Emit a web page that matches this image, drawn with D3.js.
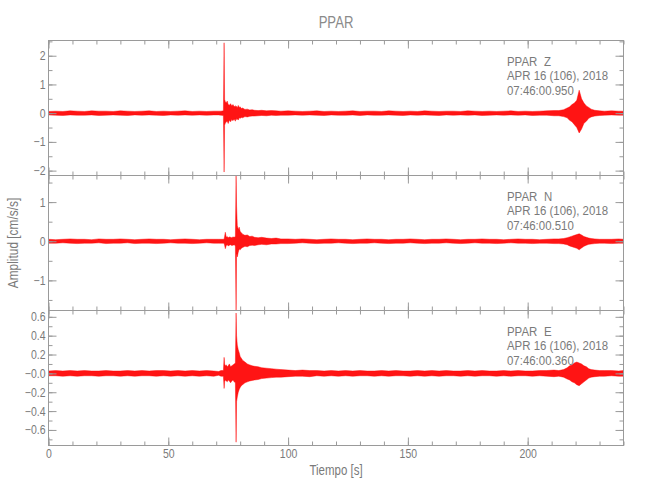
<!DOCTYPE html>
<html>
<head>
<meta charset="utf-8">
<script src="https://cdn.jsdelivr.net/npm/d3@7"></script>
<style>
  html, body { margin: 0; padding: 0; background: #ffffff; }
  svg { display: block; }
</style>
</head>
<body>
<script>
// ---------------- DATA ----------------
const station = "PPAR";
const components = ["Z", "N", "E"];
const dateLabel = "APR 16 (106), 2018";
const startTimes = ["07:46:00.950", "07:46:00.510", "07:46:00.360"];

// time samples (s) of the amplitude envelopes
const timeSec = [
  0, 3, 6, 9, 12, 15, 18, 21, 24, 27, 30, 33, 36, 39, 42, 45, 48, 51, 54, 57, 60, 63, 66, 69, 71,
  72, 73, 73.3, 73.5, 73.8, 74.2, 74.6, 75, 75.5, 76, 76.5, 77, 77.5, 78, 78.3, 78.5, 78.8, 79.2, 79.6, 80, 80.5, 81, 82, 83, 84, 85, 86, 87.5, 89, 91, 93, 95, 97, 100,
  103, 106, 109, 112, 115, 118, 121, 124, 127, 130, 133, 136, 139, 142, 145, 148, 151, 154, 157, 160, 163, 166, 169, 172, 175, 178, 181, 184, 187, 190, 193, 196, 199, 202, 205, 208, 211,
  213, 215, 216.5, 217.5, 218.5, 219.5, 220.5, 221.5, 222.5, 223.5, 224.5, 225.5, 226.5, 228, 230,
  232, 235, 238, 240
];

// Z component envelope (cm/s/s)
const zHigh = [
  0.06,0.07,0.06,0.08,0.07,0.06,0.08,0.07,0.07,0.06,0.08,0.07,0.06,0.07,0.08,0.06,0.07,0.06,0.07,0.08,0.06,0.07,0.06,0.07,0.07,
  0.07,0.08,2.45,0.48,0.40,0.35,0.42,0.30,0.28,0.33,0.25,0.30,0.22,0.26,0.20,0.24,0.18,0.27,0.20,0.22,0.16,0.18,0.13,0.14,0.11,0.12,0.10,0.09,0.10,0.08,0.09,0.08,0.07,0.08,
  0.07,0.06,0.07,0.08,0.06,0.07,0.06,0.07,0.08,0.06,0.07,0.07,0.06,0.08,0.07,0.06,0.07,0.06,0.08,0.07,0.06,0.07,0.07,0.06,0.08,0.07,0.06,0.07,0.06,0.07,0.08,0.06,0.07,0.06,0.07,0.08,0.09,
  0.09,0.12,0.18,0.22,0.30,0.35,0.45,0.80,0.50,0.35,0.25,0.20,0.14,0.10,0.08,
  0.07,0.08,0.07,0.07
];
const zLow = [
  -0.06,-0.07,-0.08,-0.06,-0.07,-0.07,-0.06,-0.08,-0.07,-0.06,-0.07,-0.08,-0.06,-0.07,-0.06,-0.07,-0.08,-0.06,-0.07,-0.06,-0.07,-0.06,-0.07,-0.06,-0.06,
  -0.07,-0.08,-2.05,-0.42,-0.35,-0.30,-0.28,-0.36,-0.25,-0.30,-0.22,-0.26,-0.20,-0.28,-0.18,-0.22,-0.20,-0.24,-0.16,-0.18,-0.15,-0.16,-0.12,-0.13,-0.11,-0.10,-0.10,-0.09,-0.08,-0.09,-0.07,-0.08,-0.07,-0.07,
  -0.06,-0.07,-0.06,-0.07,-0.08,-0.06,-0.07,-0.07,-0.06,-0.08,-0.06,-0.07,-0.07,-0.06,-0.07,-0.08,-0.06,-0.07,-0.06,-0.07,-0.08,-0.06,-0.07,-0.06,-0.07,-0.06,-0.08,-0.07,-0.06,-0.07,-0.06,-0.07,-0.06,-0.08,-0.07,-0.07,-0.09,
  -0.09,-0.12,-0.16,-0.25,-0.30,-0.40,-0.50,-0.69,-0.55,-0.35,-0.28,-0.18,-0.13,-0.10,-0.08,
  -0.07,-0.06,-0.07,-0.07
];

// N component envelope
const nHigh = [
  0.05,0.04,0.05,0.06,0.05,0.05,0.04,0.06,0.05,0.05,0.06,0.05,0.04,0.05,0.06,0.05,0.05,0.04,0.05,0.06,0.05,0.04,0.05,0.05,0.05,
  0.05,0.05,0.06,0.12,0.23,0.10,0.12,0.09,0.11,0.10,0.09,0.11,0.10,0.12,1.68,0.90,0.40,0.30,0.36,0.25,0.22,0.18,0.15,0.16,0.12,0.13,0.10,0.09,0.10,0.08,0.07,0.08,0.06,0.06,
  0.05,0.06,0.05,0.04,0.05,0.06,0.05,0.05,0.04,0.05,0.06,0.05,0.05,0.04,0.05,0.05,0.06,0.05,0.04,0.05,0.05,0.06,0.05,0.04,0.05,0.05,0.06,0.05,0.05,0.04,0.05,0.06,0.05,0.05,0.04,0.05,0.06,
  0.06,0.07,0.09,0.11,0.13,0.15,0.17,0.19,0.16,0.12,0.10,0.08,0.07,0.06,0.05,
  0.05,0.05,0.06,0.05
];
const nLow = [
  -0.05,-0.05,-0.04,-0.05,-0.06,-0.05,-0.05,-0.04,-0.06,-0.05,-0.05,-0.04,-0.06,-0.05,-0.05,-0.06,-0.05,-0.04,-0.05,-0.05,-0.06,-0.05,-0.04,-0.05,-0.05,
  -0.05,-0.05,-0.06,-0.10,-0.19,-0.11,-0.09,-0.12,-0.10,-0.09,-0.11,-0.10,-0.09,-0.12,-1.77,-0.30,-0.40,-0.28,-0.20,-0.22,-0.18,-0.16,-0.13,-0.14,-0.11,-0.10,-0.11,-0.09,-0.08,-0.09,-0.07,-0.07,-0.06,-0.06,
  -0.05,-0.04,-0.05,-0.06,-0.05,-0.05,-0.04,-0.05,-0.06,-0.05,-0.05,-0.04,-0.05,-0.06,-0.05,-0.05,-0.04,-0.05,-0.06,-0.05,-0.05,-0.04,-0.05,-0.06,-0.05,-0.04,-0.05,-0.05,-0.06,-0.05,-0.04,-0.05,-0.05,-0.06,-0.05,-0.05,-0.06,
  -0.06,-0.07,-0.09,-0.12,-0.14,-0.16,-0.18,-0.22,-0.17,-0.13,-0.10,-0.08,-0.07,-0.06,-0.05,
  -0.05,-0.06,-0.05,-0.05
];

// E component envelope
const eHigh = [
  0.025,0.03,0.025,0.03,0.025,0.03,0.025,0.025,0.03,0.025,0.025,0.03,0.025,0.03,0.025,0.03,0.03,0.025,0.03,0.025,0.03,0.025,0.03,0.025,0.02,
  0.03,0.03,0.17,0.10,0.08,0.09,0.07,0.08,0.10,0.07,0.08,0.09,0.10,0.11,0.64,0.40,0.30,0.25,0.22,0.18,0.16,0.14,0.12,0.10,0.09,0.08,0.075,0.07,0.06,0.055,0.05,0.045,0.04,0.035,
  0.03,0.035,0.03,0.03,0.025,0.03,0.025,0.03,0.025,0.03,0.025,0.025,0.03,0.025,0.03,0.025,0.025,0.03,0.025,0.03,0.025,0.03,0.025,0.025,0.03,0.025,0.03,0.025,0.025,0.03,0.025,0.03,0.025,0.025,0.03,0.03,0.035,
  0.03,0.04,0.06,0.08,0.09,0.11,0.12,0.11,0.10,0.08,0.07,0.05,0.04,0.035,0.03,
  0.03,0.03,0.025,0.03
];
const eLow = [
  -0.025,-0.025,-0.03,-0.025,-0.03,-0.025,-0.025,-0.03,-0.025,-0.025,-0.03,-0.025,-0.03,-0.025,-0.025,-0.03,-0.025,-0.03,-0.025,-0.03,-0.025,-0.03,-0.025,-0.03,-0.02,
  -0.03,-0.03,-0.16,-0.09,-0.07,-0.08,-0.09,-0.07,-0.08,-0.10,-0.08,-0.07,-0.09,-0.10,-0.73,-0.30,-0.25,-0.20,-0.17,-0.15,-0.13,-0.12,-0.10,-0.09,-0.08,-0.075,-0.07,-0.065,-0.055,-0.05,-0.045,-0.04,-0.04,-0.035,
  -0.03,-0.03,-0.035,-0.025,-0.03,-0.025,-0.03,-0.025,-0.03,-0.025,-0.025,-0.03,-0.025,-0.03,-0.025,-0.025,-0.03,-0.025,-0.03,-0.025,-0.03,-0.025,-0.025,-0.03,-0.025,-0.03,-0.025,-0.025,-0.03,-0.025,-0.03,-0.025,-0.025,-0.03,-0.025,-0.03,-0.035,
  -0.03,-0.04,-0.06,-0.07,-0.09,-0.10,-0.12,-0.13,-0.11,-0.09,-0.07,-0.05,-0.04,-0.035,-0.03,
  -0.03,-0.025,-0.03,-0.03
];

// axis ranges and ticks
const xDomain = [0, 240];
const xMajorTicks = [0, 50, 100, 150, 200];
const xMinorTicks = [0,10,20,30,40,50,60,70,80,90,100,110,120,130,140,150,160,170,180,190,200,210,220,230,240];
const xTickLabels = ["0", "50", "100", "150", "200"];

const zDomain = [-2.17, 2.53];
const nDomain = [-1.77, 1.68];
const eDomain = [-0.765, 0.667];
const zMajorTicks = [-2, -1, 0, 1, 2];
const zTickLabels = ["\u22122", "\u22121", "0", "1", "2"];
const zMinorTicks = [-2, -1.5, -1, -0.5, 0, 0.5, 1, 1.5, 2, 2.5];
const nMajorTicks = [-1, 0, 1];
const nTickLabels = ["\u22121", "0", "1"];
const nMinorTicks = [-1.5, -1, -0.5, 0, 0.5, 1, 1.5];
const eMajorTicks = [-0.6, -0.4, -0.2, 0, 0.2, 0.4, 0.6];
const eTickLabels = ["\u22120.6", "\u22120.4", "\u22120.2", "\u22120.0", "0.2", "0.4", "0.6"];
const eMinorTicks = [-0.7, -0.6, -0.5, -0.4, -0.3, -0.2, -0.1, 0, 0.1, 0.2, 0.3, 0.4, 0.5, 0.6];

// ---------------- DRAWING ----------------
const W = 650, H = 500;
const FONT = "'Liberation Sans', Arial, sans-serif";
const AXIS_COLOR = "#9a9a9a";
const TEXT_COLOR = "#7a7a7a";
const TRACE_COLOR = "#ff0000";

const left = 48.5, right = 623.5;
const panelTops = [40.5, 175.5, 310.5];
const panelBottoms = [175.5, 310.5, 445.5];

const svg = d3.select("body").append("svg")
  .attr("width", W).attr("height", H)
  .style("background", "#ffffff");

const x = d3.scaleLinear().domain(xDomain).range([left, right]);

const panels = [
  { high: zHigh, low: zLow, domain: zDomain, major: zMajorTicks, minor: zMinorTicks, labels: zTickLabels },
  { high: nHigh, low: nLow, domain: nDomain, major: nMajorTicks, minor: nMinorTicks, labels: nTickLabels },
  { high: eHigh, low: eLow, domain: eDomain, major: eMajorTicks, minor: eMinorTicks, labels: eTickLabels }
];

function styleAxis(g) {
  const sx = 0.84;
  g.select(".domain").remove();
  g.selectAll(".tick line").attr("stroke", AXIS_COLOR).attr("stroke-width", 1);
  g.selectAll(".tick text").attr("fill", TEXT_COLOR)
    .attr("transform", `scale(${sx},1)`)
    .attr("x", function () { return +d3.select(this).attr("x") / sx; });
  g.attr("font-family", FONT).attr("font-size", 12.5);
}

function narrowText(parent, px, py, str, size, sx, anchor, extra) {
  return parent.append("text")
    .attr("transform", `translate(${px},${py})${extra || ""} scale(${sx},1)`)
    .attr("text-anchor", anchor || "start")
    .attr("font-family", FONT).attr("font-size", size)
    .attr("fill", TEXT_COLOR)
    .text(str);
}

panels.forEach((p, i) => {
  const top = panelTops[i], bot = panelBottoms[i];
  const y = d3.scaleLinear().domain(p.domain).range([bot, top]);
  const g = svg.append("g");

  const clipId = "clip" + i;
  svg.append("clipPath").attr("id", clipId)
    .append("rect").attr("x", left).attr("y", top).attr("width", right - left).attr("height", bot - top);

  // trace envelope
  const area = d3.area()
    .x((d, k) => x(timeSec[k]))
    .y0((d, k) => y(p.low[k]))
    .y1((d, k) => y(p.high[k]));
  g.append("path")
    .datum(p.high)
    .attr("clip-path", "url(#" + clipId + ")")
    .attr("d", area)
    .attr("fill", TRACE_COLOR)
    .attr("fill-opacity", 0.92)
    .attr("stroke", TRACE_COLOR)
    .attr("stroke-width", 0.45)
    .attr("stroke-linejoin", "round");

  // frame
  g.append("rect")
    .attr("x", left).attr("y", top)
    .attr("width", right - left).attr("height", bot - top)
    .attr("fill", "none").attr("stroke", AXIS_COLOR).attr("stroke-width", 1);

  // left axis
  g.append("g").attr("transform", `translate(${left},0)`)
    .call(d3.axisLeft(y).tickValues(p.minor).tickSize(-4).tickFormat(""))
    .call(styleAxis);
  g.append("g").attr("transform", `translate(${left},0)`)
    .call(d3.axisLeft(y).tickValues(p.major).tickSize(-8).tickPadding(3)
      .tickFormat((d, k) => p.labels[k]))
    .call(styleAxis);
  // right axis
  g.append("g").attr("transform", `translate(${right},0)`)
    .call(d3.axisRight(y).tickValues(p.minor).tickSize(-4).tickFormat(""))
    .call(styleAxis);
  g.append("g").attr("transform", `translate(${right},0)`)
    .call(d3.axisRight(y).tickValues(p.major).tickSize(-8).tickFormat(""))
    .call(styleAxis);
  // top axis
  g.append("g").attr("transform", `translate(0,${top})`)
    .call(d3.axisTop(x).tickValues(xMinorTicks).tickSize(-4).tickFormat(""))
    .call(styleAxis);
  g.append("g").attr("transform", `translate(0,${top})`)
    .call(d3.axisTop(x).tickValues(xMajorTicks).tickSize(-8).tickFormat(""))
    .call(styleAxis);
  // bottom axis
  g.append("g").attr("transform", `translate(0,${bot})`)
    .call(d3.axisBottom(x).tickValues(xMinorTicks).tickSize(-4).tickFormat(""))
    .call(styleAxis);
  g.append("g").attr("transform", `translate(0,${bot})`)
    .call(d3.axisBottom(x).tickValues(xMajorTicks).tickSize(-8).tickPadding(4)
      .tickFormat((d, k) => i === panels.length - 1 ? xTickLabels[k] : ""))
    .call(styleAxis);

  // station info (three lines)
  narrowText(g, 507, top + 25, station, 13, 0.88);
  narrowText(g, 544, top + 25, components[i], 13, 0.88);
  narrowText(g, 507, top + 39.5, dateLabel, 13, 0.88);
  narrowText(g, 507, top + 54, startTimes[i], 13, 0.88);
});

// title
narrowText(svg, (left + right) / 2, 28, station, 16, 0.82, "middle").attr("fill", "#8a8a8a");

// x label
narrowText(svg, (left + right) / 2, 475, "Tiempo  [s]", 14, 0.82, "middle");

// y label
narrowText(svg, 18, 243, "Amplitud  [cm/s/s]", 14.5, 0.82, "middle", " rotate(-90)");
</script>
</body>
</html>
